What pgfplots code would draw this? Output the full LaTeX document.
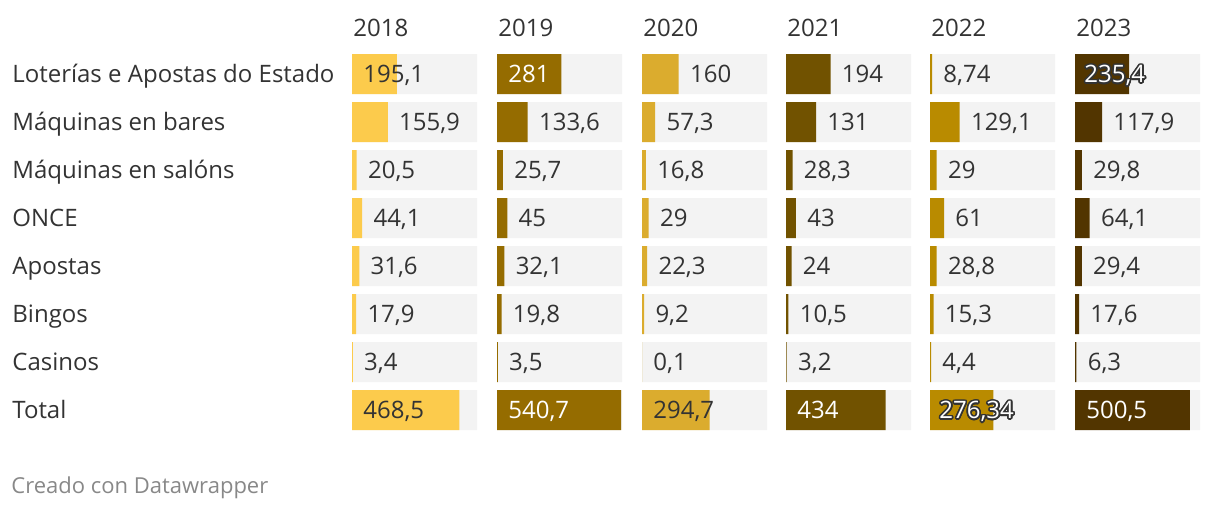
\documentclass[border=0pt]{standalone}
\usepackage{pgfplots}
\pgfplotsset{compat=1.18}
\usepackage{pgfplotstable}
\usepackage{fontspec}
\setmainfont{Open Sans}
\usepackage{contour}
\contourlength{0.8pt}
\contournumber{20}

\definecolor{cA}{HTML}{FCCB4C}
\definecolor{cB}{HTML}{956C00}
\definecolor{cC}{HTML}{DBAC2E}
\definecolor{cD}{HTML}{715200}
\definecolor{cE}{HTML}{B98B00}
\definecolor{cF}{HTML}{523500}
\definecolor{bg}{HTML}{F3F3F3}
\definecolor{txt}{HTML}{333333}
\definecolor{foot}{HTML}{888888}

% rows: 0 Loterias, 1 Maq bares, 2 Maq salons, 3 ONCE, 4 Apostas, 5 Bingos, 6 Casinos, 7 Total
\pgfplotstableread{
row v
0 195.1
1 155.9
2 20.5
3 44.1
4 31.6
5 17.9
6 3.4
7 468.5
}\tA
\pgfplotstableread{
row v
0 281
1 133.6
2 25.7
3 45
4 32.1
5 19.8
6 3.5
7 540.7
}\tB
\pgfplotstableread{
row v
0 160
1 57.3
2 16.8
3 29
4 22.3
5 9.2
6 0.1
7 294.7
}\tC
\pgfplotstableread{
row v
0 194
1 131
2 28.3
3 43
4 24
5 10.5
6 3.2
7 434
}\tD
\pgfplotstableread{
row v
0 8.74
1 129.1
2 29
3 61
4 28.8
5 15.3
6 4.4
7 276.34
}\tE
\pgfplotstableread{
row v
0 235.4
1 117.9
2 29.8
3 64.1
4 29.4
5 17.6
6 6.3
7 500.5
}\tF
\pgfplotstableread{
row v
0 545
1 545
2 545
3 545
4 545
5 545
6 545
7 545
}\tBG

\pgfplotsset{
  panel/.style={anchor=north west, scale only axis, width=62.5pt, height=192pt,
    xmin=0, xmax=545, ymin=-0.5, ymax=7.5, y dir=reverse, hide axis,
    xbar, bar width=20pt, bar shift=0pt, clip=false},
}
\tikzset{lab/.style={inner sep=0pt, font=\fontsize{12}{14}\selectfont, text=txt}}
\newcommand{\outl}[4][txt]{\node[lab,text=#1,anchor=base west,xshift=5.5pt,yshift=-4.3pt] at (axis cs:#2,#3) {#4};}
\newcommand{\inl}[3][txt]{\node[lab,text=#1,anchor=base west,xshift=5.5pt,yshift=-4.3pt] at (axis cs:0,#2) {#3};}
\newcommand{\halo}[2]{\node[lab,anchor=base west,xshift=4.5pt,yshift=-4.3pt] at (axis cs:0,#1) {\contour{txt}{\textcolor{white}{#2}}};}

\begin{document}
\begin{tikzpicture}
\path[use as bounding box] (0,0) rectangle (610pt,-255pt);

% 2018
\begin{axis}[panel, at={(176pt,-25pt)}]
\addplot[fill=bg, draw=none] table[x=v,y=row] {\tBG};
\addplot[fill=cA, draw=none] table[x=v,y=row] {\tA};
\inl{0}{195,1}
\outl{155.9}{1}{155,9}
\outl{20.5}{2}{20,5}
\outl{44.1}{3}{44,1}
\outl{31.6}{4}{31,6}
\outl{17.9}{5}{17,9}
\outl{3.4}{6}{3,4}
\inl{7}{468,5}
\end{axis}

% 2019
\begin{axis}[panel, at={(248.5pt,-25pt)}]
\addplot[fill=bg, draw=none] table[x=v,y=row] {\tBG};
\addplot[fill=cB, draw=none] table[x=v,y=row] {\tB};
\inl[white]{0}{281}
\outl{133.6}{1}{133,6}
\outl{25.7}{2}{25,7}
\outl{45}{3}{45}
\outl{32.1}{4}{32,1}
\outl{19.8}{5}{19,8}
\outl{3.5}{6}{3,5}
\inl[white]{7}{540,7}
\end{axis}

% 2020
\begin{axis}[panel, at={(321pt,-25pt)}]
\addplot[fill=bg, draw=none] table[x=v,y=row] {\tBG};
\addplot[fill=cC, draw=none] table[x=v,y=row] {\tC};
\outl{160}{0}{160}
\outl{57.3}{1}{57,3}
\outl{16.8}{2}{16,8}
\outl{29}{3}{29}
\outl{22.3}{4}{22,3}
\outl{9.2}{5}{9,2}
\outl{0.1}{6}{0,1}
\inl{7}{294,7}
\end{axis}

% 2021
\begin{axis}[panel, at={(393pt,-25pt)}]
\addplot[fill=bg, draw=none] table[x=v,y=row] {\tBG};
\addplot[fill=cD, draw=none] table[x=v,y=row] {\tD};
\outl{194}{0}{194}
\outl{131}{1}{131}
\outl{28.3}{2}{28,3}
\outl{43}{3}{43}
\outl{24}{4}{24}
\outl{10.5}{5}{10,5}
\outl{3.2}{6}{3,2}
\inl[white]{7}{434}
\end{axis}

% 2022
\begin{axis}[panel, at={(465pt,-25pt)}]
\addplot[fill=bg, draw=none] table[x=v,y=row] {\tBG};
\addplot[fill=cE, draw=none] table[x=v,y=row] {\tE};
\outl{8.74}{0}{8,74}
\outl{129.1}{1}{129,1}
\outl{29}{2}{29}
\outl{61}{3}{61}
\outl{28.8}{4}{28,8}
\outl{15.3}{5}{15,3}
\outl{4.4}{6}{4,4}
\halo{7}{276,34}
\end{axis}

% 2023
\begin{axis}[panel, at={(537.5pt,-25pt)}]
\addplot[fill=bg, draw=none] table[x=v,y=row] {\tBG};
\addplot[fill=cF, draw=none] table[x=v,y=row] {\tF};
\halo{0}{235,4}
\outl{117.9}{1}{117,9}
\outl{29.8}{2}{29,8}
\outl{64.1}{3}{64,1}
\outl{29.4}{4}{29,4}
\outl{17.6}{5}{17,6}
\outl{6.3}{6}{6,3}
\inl[white]{7}{500,5}
\end{axis}

% year headers
\foreach \xx/\yy in {176.5/2018, 249/2019, 321.5/2020, 393.5/2021, 465.5/2022, 538/2023}
  \node[lab,anchor=base west] at (\xx pt,-18.35pt) {\yy};

% row labels
\foreach \lbl [count=\i from 0] in {Loterías e Apostas do Estado, Máquinas en bares, Máquinas en salóns, ONCE, Apostas, Bingos, Casinos, Total}
  \node[lab,anchor=base west] at (6pt,{-(74+48*\i)/2*1pt-4.3pt}) {\lbl};

% footer
\node[inner sep=0pt,anchor=base west,text=foot,font=\fontsize{11}{13}\selectfont] at (5.5pt,-246.6pt) {Creado con Datawrapper};
\end{tikzpicture}
\end{document}
